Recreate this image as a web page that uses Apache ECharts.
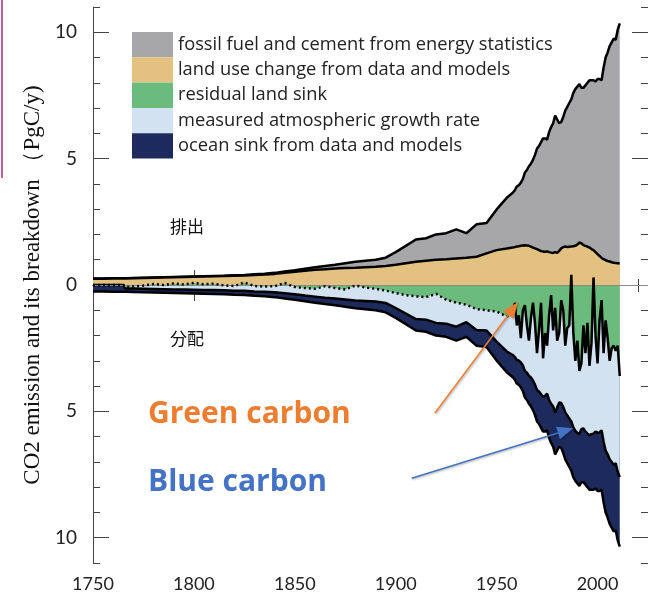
<!DOCTYPE html>
<html>
<head>
<meta charset="utf-8">
<script src="https://cdn.jsdelivr.net/npm/echarts@6/dist/echarts.min.js"></script>
<style>
  html, body { margin: 0; padding: 0; background: #fff; }
  #chart { width: 648px; height: 596px; }
</style>
</head>
<body>
<div id="chart"></div>
<script>
// years: 5-year steps before 1959, annual after
const years = [
  1750, 1755, 1760, 1765, 1766, 1770, 1775, 1780, 1785, 1790, 1795, 1800, 1805, 1810, 1815, 1820, 1825,
  1830, 1835, 1840, 1845, 1850, 1855, 1860, 1865, 1870, 1875, 1880, 1885, 1890, 1895, 1900, 1905,
  1910, 1915, 1920, 1925, 1930, 1935, 1940, 1945, 1950, 1955, 1958,
  1959, 1960, 1961, 1962, 1963, 1964, 1965, 1966, 1967, 1968, 1969, 1970, 1971, 1972, 1973, 1974,
  1975, 1976, 1977, 1978, 1979, 1980, 1981, 1982, 1983, 1984, 1985, 1986, 1987, 1988, 1989, 1990,
  1991, 1992, 1993, 1994, 1995, 1996, 1997, 1998, 1999, 2000, 2001, 2002, 2003, 2004, 2005, 2006,
  2007, 2008, 2009, 2010, 2011
]

// emissions (PgC/y)
const landUse = [
  0.25, 0.25, 0.26, 0.26, 0.26, 0.27, 0.28, 0.29, 0.30, 0.31, 0.32, 0.33, 0.34, 0.35, 0.36, 0.37, 0.38,
  0.40, 0.42, 0.44, 0.48, 0.52, 0.56, 0.60, 0.62, 0.65, 0.67, 0.68, 0.70, 0.72, 0.75, 0.80, 0.86,
  0.92, 0.96, 1.00, 1.02, 1.05, 1.08, 1.12, 1.25, 1.38, 1.44, 1.48,
  1.50, 1.52, 1.53, 1.55, 1.56, 1.57, 1.56, 1.55, 1.52, 1.48, 1.45, 1.42, 1.38, 1.34, 1.33, 1.32,
  1.33, 1.30, 1.28, 1.27, 1.30, 1.27, 1.35, 1.45, 1.50, 1.52, 1.50, 1.51, 1.52, 1.53, 1.55, 1.60,
  1.68, 1.65, 1.58, 1.55, 1.52, 1.48, 1.42, 1.38, 1.30, 1.22, 1.15, 1.07, 1.02, 0.98, 0.95, 0.93,
  0.90, 0.88, 0.87, 0.86, 0.85
]
const fossil = [
  0.01, 0.01, 0.01, 0.01, 0.01, 0.01, 0.01, 0.01, 0.01, 0.01, 0.01, 0.01, 0.01, 0.01, 0.01, 0.02, 0.02,
  0.03, 0.03, 0.04, 0.05, 0.06, 0.08, 0.10, 0.13, 0.15, 0.19, 0.24, 0.26, 0.28, 0.33, 0.50, 0.69,
  0.88, 0.89, 1.00, 1.03, 1.15, 0.97, 1.28, 1.20, 1.61, 2.01, 2.17,
  2.25, 2.38, 2.42, 2.50, 2.64, 2.88, 2.99, 3.15, 3.28, 3.47, 3.70, 3.98, 4.12, 4.31, 4.47, 4.48,
  4.42, 4.75, 4.97, 5.13, 5.40, 5.28, 5.05, 5.00, 5.15, 5.38, 5.55, 5.69, 5.83, 6.07, 6.20, 6.25,
  6.27, 6.15, 6.22, 6.35, 6.48, 6.62, 6.68, 6.72, 6.75, 6.93, 7.00, 7.03, 7.58, 8.02, 8.25, 8.52,
  8.70, 8.87, 8.83, 9.24, 9.50
]

// partitioning (sinks, PgC/y, drawn downward)
const landSink = [
  0, 0, 0, 0, 0.08, 0.06, 0.02, -0.04, 0.00, -0.06, -0.02, -0.08, -0.03, -0.05, 0.02, 0.04, -0.10,
  0.04, 0.06, 0.05, -0.08, 0.08, 0.12, 0.15, 0.05, 0.12, 0.18, 0.02, 0.10, 0.15, 0.22, 0.32, 0.40,
  0.45, 0.48, 0.35, 0.58, 0.70, 0.78, 0.95, 1.00, 1.05, 1.25, 1.15,
  0.7, 1.6, 1.2, 2.1, 1.0, 0.8, 1.6, 2.2, 1.3, 0.7, 1.5, 2.7, 1.8, 0.7, 2.9, 1.9,
  2.4, 1.2, 0.4, 1.8, 0.9, 2.2, 1.9, 0.6, 1.0, 2.4, 1.7, 1.6, -0.4, 1.9, 3.0, 2.2,
  3.4, 3.1, 1.6, 2.7, 1.5, 3.2, 2.3, -0.3, 2.0, 3.1, 1.4, 0.6, 2.7, 1.4, 2.1, 3.0,
  2.5, 2.4, 2.6, 2.4, 3.6
]
const atmGrowth = [
  0, 0, 0, 0, 0.06, 0.08, 0.13, 0.20, 0.17, 0.24, 0.20, 0.27, 0.23, 0.25, 0.19, 0.19, 0.33,
  0.22, 0.21, 0.24, 0.41, 0.29, 0.30, 0.31, 0.45, 0.41, 0.39, 0.59, 0.53, 0.50, 0.49, 0.59, 0.73,
  0.90, 0.89, 1.15, 0.95, 0.95, 0.69, 0.83, 0.80, 1.19, 1.38, 1.62,
  2.15, 1.37, 1.79, 0.96, 2.18, 2.60, 1.87, 1.39, 2.36, 3.08, 2.44, 1.45, 2.41, 3.62, 1.53, 2.49,
  1.90, 3.35, 4.30, 3.00, 4.15, 2.65, 2.75, 4.07, 3.83, 2.64, 3.46, 3.68, 5.80, 3.73, 2.77, 3.65,
  2.50, 2.60, 4.08, 3.10, 4.38, 2.75, 3.60, 6.18, 3.80, 2.75, 4.43, 5.15, 3.50, 5.15, 4.60, 3.90,
  4.50, 4.73, 4.45, 5.00, 4.00
]
const oceanSink = [
  0.26, 0.26, 0.27, 0.27, 0.13, 0.14, 0.14, 0.14, 0.14, 0.14, 0.15, 0.15, 0.15, 0.16, 0.16, 0.16, 0.17,
  0.17, 0.18, 0.19, 0.20, 0.21, 0.22, 0.24, 0.25, 0.27, 0.29, 0.31, 0.33, 0.35, 0.37, 0.39, 0.42,
  0.45, 0.48, 0.50, 0.52, 0.55, 0.58, 0.62, 0.65, 0.75, 0.82, 0.88,
  0.90, 0.93, 0.96, 0.99, 1.02, 1.05, 1.08, 1.11, 1.14, 1.17, 1.21, 1.25, 1.29, 1.33, 1.37, 1.41,
  1.45, 1.50, 1.55, 1.60, 1.65, 1.70, 1.75, 1.78, 1.82, 1.86, 1.89, 1.92, 1.95, 1.97, 1.98, 2.00,
  2.05, 2.10, 2.12, 2.10, 2.12, 2.15, 2.20, 2.22, 2.25, 2.30, 2.32, 2.35, 2.40, 2.45, 2.50, 2.55,
  2.60, 2.62, 2.65, 2.70, 2.75
]

const yTicksMajor = [-10, -5, 0, 5, 10]
const xLabels = [1750, 1800, 1850, 1900, 1950, 2000]
const measuredFrom = 1959

const names = [
  'fossil fuel and cement from energy statistics',
  'land use change from data and models',
  'residual land sink',
  'measured atmospheric growth rate',
  'ocean sink from data and models'
]
const colors = ['#a7a7a9', '#e3c281', '#6bbc7c', '#d3e2f1', '#1d2b5c']

// layered outlines: each area is drawn from zero to the cumulative boundary,
// inner layers painted over outer ones
const topEmission = years.map((y, i) => [y, landUse[i] + fossil[i]])
const topLandUse = years.map((y, i) => [y, landUse[i]])
const bottomOcean = years.map((y, i) => [y, -(landSink[i] + atmGrowth[i] + oceanSink[i])])
const bottomAtm = years.map((y, i) => [y, -(landSink[i] + atmGrowth[i])])
const bottomLand = years.map((y, i) => [y, -landSink[i]])

const chart = echarts.init(document.getElementById('chart'))

const areaSeries = (name, color, data, z, lineWidth) => ({
  name,
  type: 'line',
  data,
  z,
  symbol: 'none',
  showSymbol: false,
  itemStyle: { color },
  lineStyle: { color: '#000', width: lineWidth },
  areaStyle: { color, opacity: 1 },
  emphasis: { disabled: true }
})

const axisLineStyle = { show: true, lineStyle: { color: '#444', width: 1 } }
const arrowShadow = { shadowColor: 'rgba(0,0,0,0.3)', shadowBlur: 2, shadowOffsetX: 1, shadowOffsetY: 1 }

chart.setOption({
  animation: false,
  backgroundColor: '#fff',
  grid: { left: 93, top: 7, width: 559, bottom: 33 },
  legend: {
    orient: 'vertical',
    left: 132,
    top: 32,
    padding: 0,
    icon: 'rect',
    itemWidth: 41,
    itemHeight: 25.3,
    itemGap: 0,
    selectedMode: false,
    data: names,
    itemStyle: { borderWidth: 0 },
    textStyle: { fontFamily: 'Open Sans', fontSize: 18.3, color: '#222' }
  },
  xAxis: [
    {
      type: 'value', min: 1750, max: 2025, interval: 10, position: 'bottom',
      axisLine: axisLineStyle,
      axisTick: { inside: true, length: 6, lineStyle: { color: '#444' } },
      axisLabel: {
        customValues: xLabels, formatter: v => String(v),
        margin: 12, fontFamily: 'Lato', fontSize: 18, color: '#222'
      },
      splitLine: { show: false }
    },
    {
      type: 'value', min: 1750, max: 2025, position: 'bottom',
      axisLine: { show: false },
      axisTick: { inside: true, length: 15, customValues: xLabels, lineStyle: { color: '#444' } },
      axisLabel: { show: false },
      splitLine: { show: false }
    },
    {
      type: 'value', min: 1750, max: 2025, interval: 10, position: 'top',
      axisLine: axisLineStyle,
      axisTick: { inside: true, length: 7, lineStyle: { color: '#444' } },
      axisLabel: { show: false },
      splitLine: { show: false }
    },
    {
      type: 'value', min: 1750, max: 2025, position: 'top',
      axisLine: { show: false },
      axisTick: { inside: true, length: 16, customValues: xLabels, lineStyle: { color: '#444' } },
      axisLabel: { show: false },
      splitLine: { show: false }
    }
  ],
  yAxis: [
    {
      type: 'value', min: -11, max: 11, interval: 1, position: 'left',
      name: 'CO2 emission and its breakdown （PgC/y)',
      nameLocation: 'middle',
      nameRotate: 90,
      nameGap: 46,
      nameTextStyle: { fontFamily: 'Liberation Serif', fontSize: 23, color: '#111' },
      axisLine: axisLineStyle,
      axisTick: { inside: true, length: 7, lineStyle: { color: '#444' } },
      axisLabel: {
        customValues: yTicksMajor,
        formatter: v => String(Math.abs(v)),
        margin: 16, fontFamily: 'Lato', fontSize: 19, color: '#222'
      },
      splitLine: { show: false }
    },
    {
      type: 'value', min: -11, max: 11, position: 'left',
      axisLine: { show: false },
      axisTick: { inside: true, length: 16, customValues: yTicksMajor, lineStyle: { color: '#444' } },
      axisLabel: { show: false },
      splitLine: { show: false }
    },
    {
      type: 'value', min: -11, max: 11, interval: 1, position: 'right',
      axisLine: axisLineStyle,
      axisTick: { inside: true, length: 7, lineStyle: { color: '#444' } },
      axisLabel: { show: false },
      splitLine: { show: false }
    },
    {
      type: 'value', min: -11, max: 11, position: 'right',
      axisLine: { show: false },
      axisTick: { inside: true, length: 16, customValues: yTicksMajor, lineStyle: { color: '#444' } },
      axisLabel: { show: false },
      splitLine: { show: false }
    }
  ],
  series: [
    areaSeries(names[0], colors[0], topEmission, 2, 2.5),
    areaSeries(names[1], colors[1], topLandUse, 3, 2.5),
    areaSeries(names[4], colors[4], bottomOcean, 2, 2.5),
    areaSeries(names[3], colors[3], bottomAtm, 3, 2.5),
    Object.assign(areaSeries(names[2], colors[2], bottomLand, 4, 0), {
      markLine: {
        silent: true,
        symbol: 'none',
        label: { show: false },
        lineStyle: { color: '#8a8a8a', width: 1, type: 'solid' },
        data: [{ yAxis: 0 }]
      }
    }),
    {
      name: 'land sink (residual, estimated)',
      type: 'line',
      z: 6,
      symbol: 'none',
      data: bottomLand.filter(d => d[0] <= measuredFrom),
      lineStyle: { color: '#000', width: 2.5, type: [2, 3] },
      emphasis: { disabled: true }
    },
    {
      name: 'land sink (residual, measured)',
      type: 'line',
      z: 6,
      symbol: 'none',
      data: bottomLand.filter(d => d[0] >= measuredFrom),
      lineStyle: { color: '#000', width: 2.5 },
      emphasis: { disabled: true }
    }
  ],
  graphic: [
    { type: 'line', z: 100, shape: { x1: 2, y1: 0, x2: 2, y2: 178 }, style: { stroke: '#c45d9e', lineWidth: 2 } },
    { type: 'text', z: 100, left: 170, top: 218, style: { text: '排出', font: '17px "Noto Sans CJK JP"', fill: '#111' } },
    { type: 'text', z: 100, left: 170, top: 330, style: { text: '分配', font: '17px "Noto Sans CJK JP"', fill: '#111' } },
    {
      type: 'text', z: 100, left: 148, top: 399,
      style: Object.assign({ text: 'Green carbon', font: 'bold 30px "Open Sans"', fill: '#ed7d31' },
        { shadowColor: 'rgba(0,0,0,0.35)', shadowBlur: 3, shadowOffsetX: 2, shadowOffsetY: 2 })
    },
    {
      type: 'text', z: 100, left: 148, top: 467,
      style: Object.assign({ text: 'Blue carbon', font: 'bold 30px "Open Sans"', fill: '#4472c4' },
        { shadowColor: 'rgba(0,0,0,0.35)', shadowBlur: 3, shadowOffsetX: 2, shadowOffsetY: 2 })
    },
    {
      type: 'line', z: 100, shape: { x1: 435, y1: 413, x2: 508.4, y2: 314.8 },
      style: Object.assign({ stroke: '#ed7d31', lineWidth: 1.5 }, arrowShadow)
    },
    {
      type: 'polygon', z: 100, shape: { points: [[518, 302], [513.6, 318.7], [503.2, 310.9]] },
      style: Object.assign({ fill: '#ed7d31' }, arrowShadow)
    },
    {
      type: 'line', z: 100, shape: { x1: 411.7, y1: 478.3, x2: 558, y2: 433 },
      style: Object.assign({ stroke: '#4472c4', lineWidth: 1.5 }, arrowShadow)
    },
    {
      type: 'polygon', z: 100, shape: { points: [[573.3, 428.3], [559.9, 439.2], [556.1, 426.8]] },
      style: Object.assign({ fill: '#4472c4' }, arrowShadow)
    }
  ]
})

window.addEventListener('resize', () => chart.resize())
</script>
</body>
</html>
